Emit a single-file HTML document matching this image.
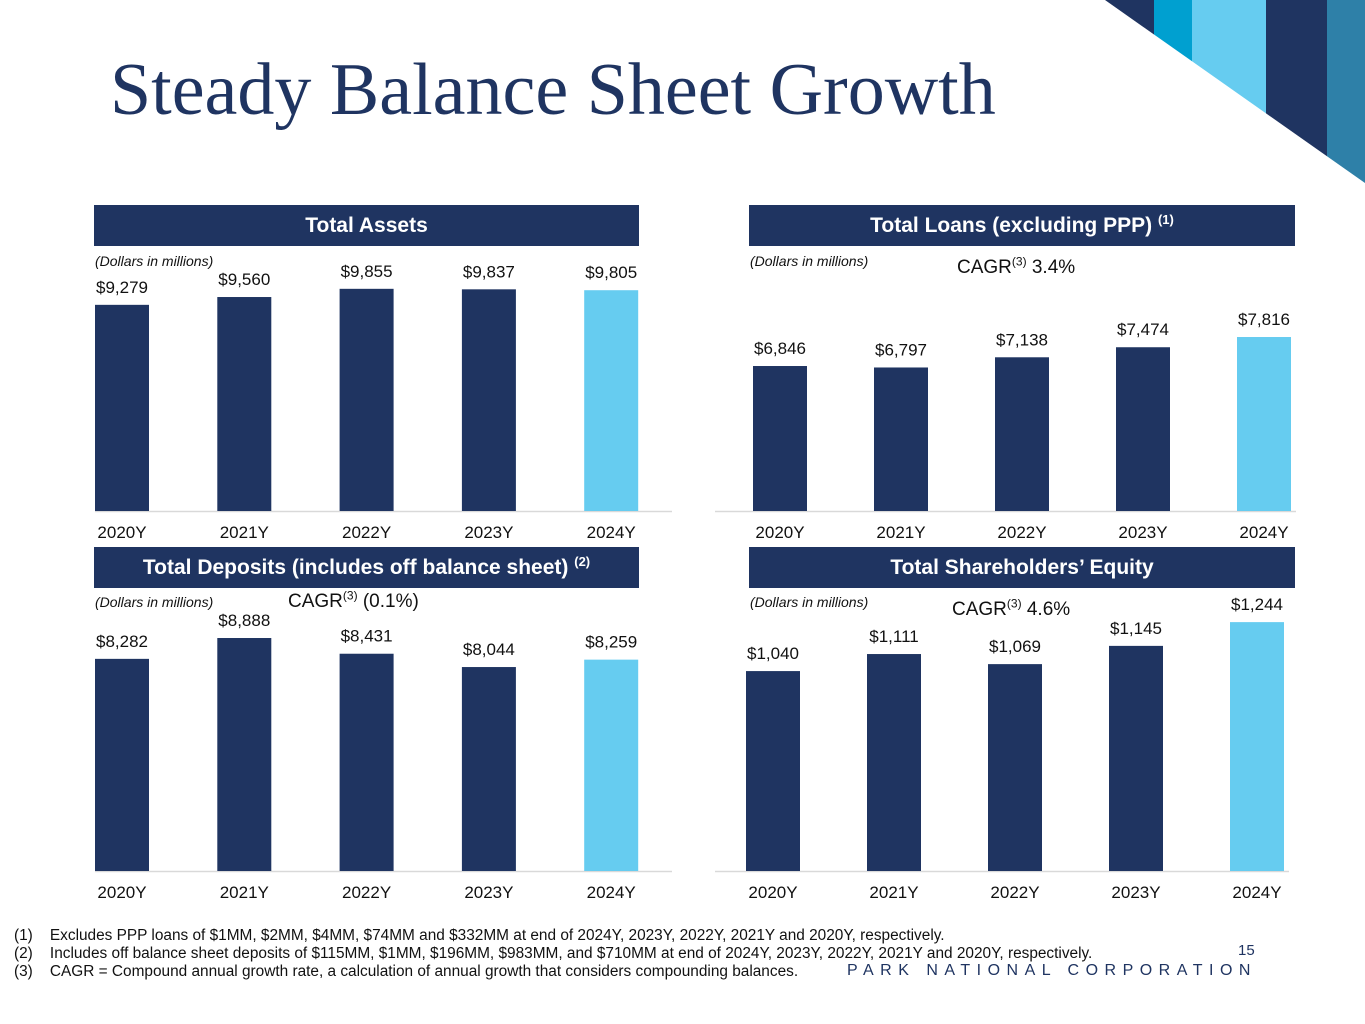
<!DOCTYPE html>
<html><head><meta charset="utf-8"><style>
body{margin:0;width:1365px;height:1024px;position:relative;background:#fff;font-family:"Liberation Sans",sans-serif;overflow:hidden}
.abs{position:absolute}
.title{left:110px;top:48px;font-family:"Liberation Serif",serif;font-size:74px;color:#1f3461;white-space:nowrap}
.hdr{position:absolute;background:#1f3461;color:#fff;font-weight:bold;font-size:21px;text-align:center;line-height:41px;height:41px}
.hdr sup{font-size:13px;vertical-align:0;position:relative;top:-8px;line-height:0}
.note{position:absolute;font-size:14px;font-style:italic;color:#111}
.cagr{position:absolute;font-size:19px;color:#111}
.cagr sup{font-size:12px;line-height:0}
.fn{position:absolute;left:14px;font-size:15.4px;color:#111;white-space:nowrap}
</style></head><body>
<svg class="abs" style="left:0;top:0" width="1365" height="1024">
<defs><clipPath id="cp"><polygon points="1105,0 1365,0 1365,183"/></clipPath></defs>
<g clip-path="url(#cp)">
<rect x="1100" y="0" width="54" height="200" fill="#1f3461"/>
<rect x="1154" y="0" width="38" height="200" fill="#00a0d0"/>
<rect x="1192" y="0" width="74" height="200" fill="#66ccf0"/>
<rect x="1266" y="0" width="61" height="200" fill="#1f3461"/>
<rect x="1327" y="0" width="38" height="200" fill="#2e80a8"/>
</g></svg>
<div class="abs title">Steady Balance Sheet Growth</div>

<div class="hdr" style="left:94px;top:205px;width:545px">Total Assets</div>
<div class="hdr" style="left:749px;top:205px;width:546px">Total Loans (excluding PPP) <sup>(1)</sup></div>
<div class="hdr" style="left:94px;top:547px;width:545px">Total Deposits (includes off balance sheet) <sup>(2)</sup></div>
<div class="hdr" style="left:749px;top:547px;width:546px">Total Shareholders’ Equity</div>

<div class="note" style="left:95px;top:253px">(Dollars in millions)</div>
<div class="note" style="left:750px;top:253px">(Dollars in millions)</div>
<div class="note" style="left:95px;top:594px">(Dollars in millions)</div>
<div class="note" style="left:750px;top:594px">(Dollars in millions)</div>
<div class="cagr" style="left:957px;top:257px">CAGR<sup>(3)</sup> 3.4%</div>
<div class="cagr" style="left:288px;top:591px">CAGR<sup>(3)</sup> (0.1%)</div>
<div class="cagr" style="left:952px;top:599px">CAGR<sup>(3)</sup> 4.6%</div>

<svg id="ch" class="abs" style="left:0;top:0" width="1365" height="1024"></svg>

<div class="fn" style="top:927px">(1)&nbsp;&nbsp;&nbsp; Excludes PPP loans of $1MM, $2MM, $4MM, $74MM and $332MM at end of 2024Y, 2023Y, 2022Y, 2021Y and 2020Y, respectively.</div>
<div class="fn" style="top:945px">(2)&nbsp;&nbsp;&nbsp; Includes off balance sheet deposits of $115MM, $1MM, $196MM, $983MM, and $710MM at end of 2024Y, 2023Y, 2022Y, 2021Y and 2020Y, respectively.</div>
<div class="fn" style="top:963px">(3)&nbsp;&nbsp;&nbsp; CAGR = Compound annual growth rate, a calculation of annual growth that considers compounding balances.</div>
<div class="abs" style="left:1238px;top:942px;font-size:15px;color:#1f3461">15</div>
<div class="abs" style="left:847px;top:962px;font-size:16px;letter-spacing:6.5px;color:#1f3461;white-space:nowrap">PARK NATIONAL CORPORATION</div>

<script>
const categories=["2020Y","2021Y","2022Y","2023Y","2024Y"];
const assetsValues=[9279,9560,9855,9837,9805];
const loansValues=[6846,6797,7138,7474,7816];
const depositsValues=[8282,8888,8431,8044,8259];
const equityValues=[1040,1111,1069,1145,1244];
const svg=document.getElementById('ch');
const NS="http://www.w3.org/2000/svg";
function mk(t,a){const e=document.createElementNS(NS,t);for(const k in a)e.setAttribute(k,a[k]);svg.appendChild(e);return e;}
function chart(name,vals,x0,step,axL,axR,base,m,k){
  const ax=mk('line',{x1:axL,x2:axR,y1:base+0.5,y2:base+0.5,stroke:'#d9d9d9','stroke-width':1.5});
  
  
  vals.forEach((v,i)=>{
    const cx=x0+i*step, h=(v-m)*k, top=base-h;
    const r=mk('rect',{x:cx-27,y:top,width:54,height:h,fill:i==vals.length-1?'#66ccf0':'#1f3461'});
    
    
    const t=mk('text',{x:cx,y:top-12,'text-anchor':'middle','font-size':17,fill:'#111','font-family':'Liberation Sans'});
    t.textContent='$'+v.toLocaleString('en-US');
    
    
    const c=mk('text',{x:cx,y:base+27,'text-anchor':'middle','font-size':17,fill:'#111','font-family':'Liberation Sans'});
    c.textContent=categories[i];
    
    
  });
}
chart('assets',assetsValues,122,122.3,95,672,511,1863,0.0278);
chart('loans',loansValues,780,121,715,1296,511,1997,0.0299);
chart('deposits',depositsValues,122,122.3,95,672,871,2115,0.0344);
chart('equity',equityValues,773,121,715,1289,871,207,0.24);
</script>
</body></html>
